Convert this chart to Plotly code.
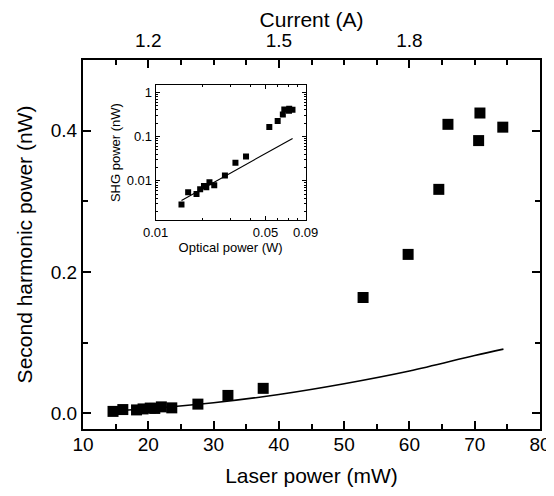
import plotly.graph_objects as go

# ---- data ----
laser_mw = [14.6, 16.1, 18.2, 19.2, 20.3, 21.0, 22.0, 23.6, 27.6, 32.2, 37.6,
            52.9, 59.8, 64.5, 65.9, 70.6, 70.8, 74.3]
shg_nw = [0.0029, 0.0055, 0.0050, 0.0064, 0.0076, 0.0071, 0.0093, 0.0079, 0.0132,
          0.0255, 0.0355, 0.164, 0.225, 0.317, 0.409, 0.386, 0.425, 0.405]

fit_mw = [14.6, 20, 30, 40, 50, 60, 70, 74.4]
fit_nw = [0.0036, 0.0067, 0.0151, 0.0268, 0.042, 0.060, 0.082, 0.091]

x_ticks = [10, 20, 30, 40, 50, 60, 70, 80]
y_ticks = [0.0, 0.2, 0.4]
y_ticktext = ["0.0", "0.2", "0.4"]
current_ticks = [1.2, 1.5, 1.8]
current_range = [1.05, 2.1]

inset_x_ticks = [0.01, 0.05, 0.09]
inset_x_ticktext = ["0.01", "0.05", "0.09"]
inset_x_minor = [0.02, 0.03, 0.04, 0.06, 0.07, 0.08]
inset_y_ticks = [0.01, 0.1, 1]
inset_y_ticktext = ["0.01", "0.1", "1"]
inset_y_minor = [m * d for d in (0.001, 0.01, 0.1) for m in range(2, 10)] + [1.0]

# W for the inset
optical_w = [v / 1000 for v in laser_mw]
fit_w = [v / 1000 for v in fit_mw]

FONT = "Liberation Sans, Arial, sans-serif"
TITLE_SIZE = 21
TICK_SIZE = 19

fig = go.Figure()

# main plot
fig.add_trace(go.Scatter(x=fit_mw, y=fit_nw, mode="lines", line=dict(color="black", width=1.6, shape="spline"),
                         showlegend=False, hoverinfo="skip"))
fig.add_trace(go.Scatter(x=laser_mw, y=shg_nw, mode="markers",
                         marker=dict(symbol="square", size=11, color="black"), showlegend=False))
# top axis (current) carrier
fig.add_trace(go.Scatter(x=current_ticks, y=[None] * len(current_ticks), xaxis="x2", yaxis="y",
                         mode="markers", showlegend=False, hoverinfo="skip"))

# inset
fig.add_trace(go.Scatter(x=fit_w, y=fit_nw, mode="lines", xaxis="x3", yaxis="y3",
                         line=dict(color="black", width=1.2), showlegend=False, hoverinfo="skip"))
fig.add_trace(go.Scatter(x=optical_w, y=shg_nw, mode="markers", xaxis="x3", yaxis="y3",
                         marker=dict(symbol="square", size=6, color="black"), showlegend=False))

axis_common = dict(showline=True, linecolor="black", showgrid=False, zeroline=False, automargin=False,
                   ticks="inside", tickcolor="black", tickfont=dict(family=FONT, size=TICK_SIZE, color="black"))

# the page body adds an 8 px margin, so the figure is 8 px smaller and margins are shifted accordingly
fig.update_layout(
    template="none",
    width=546, height=488,
    margin=dict(l=75, r=14, t=52, b=67),
    paper_bgcolor="white", plot_bgcolor="white",
    font=dict(family=FONT, color="black"),
    xaxis=dict(**axis_common, range=[10, 80], tickvals=x_ticks, linewidth=2, ticklen=8, tickwidth=1.5,
               ticklabelstandoff=-3,
               minor=dict(ticks="inside", dtick=5, tick0=10, ticklen=5, tickcolor="black", tickwidth=1.5),
               title=dict(text="Laser power (mW)", font=dict(family=FONT, size=TITLE_SIZE), standoff=15),
               anchor="y"),
    xaxis2=dict(**axis_common, range=current_range, overlaying="x", side="top", anchor="y",
                tickvals=current_ticks, ticktext=["1.2", "1.5", "1.8"], linewidth=2, ticklen=8, tickwidth=1.5,
                ticklabelstandoff=3,
                minor=dict(ticks="inside", dtick=0.075, tick0=1.2, ticklen=5, tickcolor="black", tickwidth=1.5),
                title=dict(text="Current (A)", font=dict(family=FONT, size=TITLE_SIZE), standoff=3)),
    yaxis=dict(**axis_common, range=[-0.022, 0.5], tickvals=y_ticks, ticktext=y_ticktext, linewidth=2,
               ticklen=8, tickwidth=1.5, mirror="ticks",
               minor=dict(ticks="inside", dtick=0.1, tick0=0, ticklen=5, tickcolor="black", tickwidth=1.5),
               title=dict(text="Second harmonic power (nW)", font=dict(family=FONT, size=TITLE_SIZE), standoff=12)),
    xaxis3=dict(showline=True, linecolor="black", linewidth=1, showgrid=False, zeroline=False, mirror="ticks",
                automargin=False,
                type="log", range=[-2, -1.0458], domain=[0.159, 0.487], anchor="y3",
                tickvals=inset_x_ticks, ticktext=inset_x_ticktext, ticks="inside", ticklen=4, tickcolor="black",
                tickfont=dict(family=FONT, size=13, color="black"),
                minor=dict(ticks="inside", tickvals=inset_x_minor, ticklen=2, tickcolor="black"),
                title=dict(text="Optical power (W)", font=dict(family=FONT, size=13), standoff=2)),
    yaxis3=dict(showline=True, linecolor="black", linewidth=1, showgrid=False, zeroline=False, mirror="ticks",
                automargin=False,
                type="log", range=[-2.89, 0.165], domain=[0.566, 0.932], anchor="x3",
                tickvals=inset_y_ticks, ticktext=inset_y_ticktext, ticks="inside", ticklen=4, tickcolor="black",
                tickfont=dict(family=FONT, size=13, color="black"),
                minor=dict(ticks="inside", tickvals=inset_y_minor, ticklen=2, tickcolor="black"),
                title=dict(text="SHG power (nW)", font=dict(family=FONT, size=13), standoff=3)),
)

fig.write_html("out.html")
